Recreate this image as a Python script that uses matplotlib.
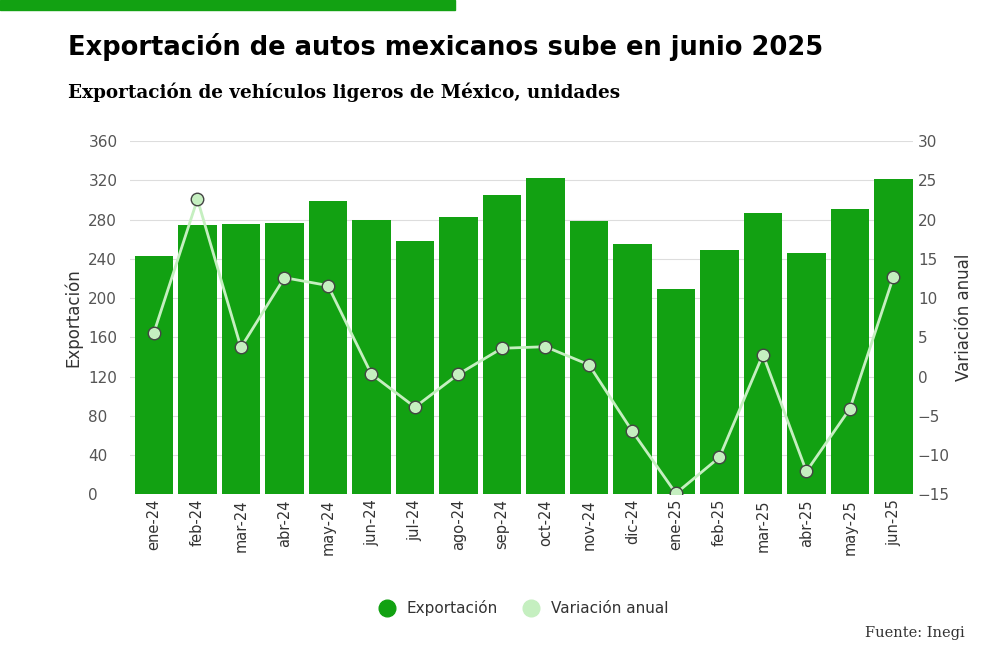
import matplotlib.pyplot as plt
from matplotlib.lines import Line2D

meses = ["ene-24", "feb-24", "mar-24", "abr-24", "may-24", "jun-24", "jul-24", "ago-24", "sep-24",
         "oct-24", "nov-24", "dic-24", "ene-25", "feb-25", "mar-25", "abr-25", "may-25", "jun-25"]
exportacion = [243, 275, 276, 277, 299, 280, 258, 283, 305, 322, 279, 255, 209, 249, 287, 246, 291, 321]
variacion = [5.6, 22.6, 3.7, 12.6, 11.6, 0.3, -3.9, 0.3, 3.6, 3.8, 1.5, -7.0, -14.9, -10.3, 2.8, -12.1, -4.1, 12.7]

verde = "#12a112"
claro = "#c5efc0"
gris = "#555555"

fig = plt.figure(figsize=(10, 6.66), dpi=100)
fig.patches.append(plt.Rectangle((0, 0.985), 0.455, 0.015, transform=fig.transFigure, color=verde))
fig.text(0.068, 0.93, "Exportación de autos mexicanos sube en junio 2025", fontsize=18.5, fontweight="bold", va="center")
fig.text(0.068, 0.862, "Exportación de vehículos ligeros de México, unidades", fontsize=13.2, fontweight="bold",
         family="DejaVu Serif", va="center")

ax = fig.add_axes([0.13, 0.258, 0.783, 0.53])
x = range(len(meses))
ax.bar(x, exportacion, width=0.88, color=verde, zorder=2)
ax.set_ylim(0, 360)
ax.set_yticks(range(0, 361, 40))
ax.set_xlim(-0.55, len(meses) - 0.55)
ax.set_xticks(list(x))
ax.set_xticklabels(meses, rotation=90, color="#333333", fontsize=10.5)
ax.grid(axis="y", color="#dddddd", zorder=0)
ax.tick_params(axis="y", length=0, labelcolor=gris, labelsize=11)
ax.tick_params(axis="x", length=0)
for lab in ax.get_yticklabels():
    lab.set_horizontalalignment("left")
ax.tick_params(axis="y", pad=30)
for s in ax.spines.values():
    s.set_visible(False)
ax.set_ylabel("Exportación", color="#333333", fontsize=12)

ax2 = ax.twinx()
ax2.plot(x, variacion, color=claro, lw=2, marker="o", ms=9, markerfacecolor=claro,
         markeredgecolor="#444444", markeredgewidth=1, zorder=3)
ax2.set_ylim(-15, 30)
ax2.set_yticks(range(-15, 31, 5))
ax2.tick_params(axis="y", length=0, labelcolor=gris, labelsize=11)
for s in ax2.spines.values():
    s.set_visible(False)
ax2.set_ylabel("Variación anual", color="#333333", fontsize=12)

handles = [Line2D([], [], ls="", marker="o", ms=12, color=verde),
           Line2D([], [], ls="", marker="o", ms=12, color=claro)]
fig.legend(handles, ["Exportación", "Variación anual"], loc="center", bbox_to_anchor=(0.52, 0.087),
           ncol=2, frameon=False, fontsize=11, handletextpad=0.3, columnspacing=1.2, labelcolor="#333333")
fig.text(0.965, 0.043, "Fuente: Inegi", ha="right", fontsize=10.5, family="DejaVu Serif", color="#333333")

fig.savefig("out.png")
